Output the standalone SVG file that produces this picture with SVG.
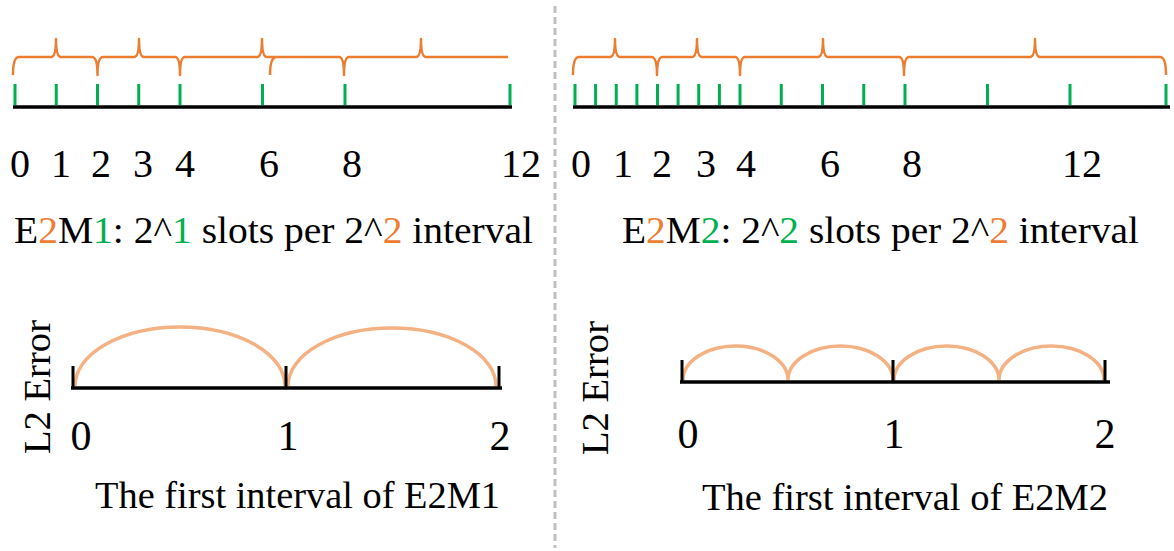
<svg xmlns="http://www.w3.org/2000/svg" width="1174" height="551" viewBox="0 0 1174 551">
<style>
.t{font-family:"Liberation Serif","Times New Roman",serif;fill:#000}
.d{font-size:40px;text-anchor:middle}
.o{fill:#ED7D31}
.g{fill:#00B050}
.brace{fill:none;stroke:#ED7D31;stroke-width:2.5;stroke-linejoin:round}
.tick{stroke:#00B050;stroke-width:3}
.axis{stroke:#000;stroke-width:3.5}
.arc{fill:none;stroke:#F4B183;stroke-width:3.5}
.btick{stroke:#000;stroke-width:3}
</style>
<rect width="1174" height="551" fill="#fff"/>
<line x1="555" y1="6" x2="555" y2="548" stroke="#BFBFBF" stroke-width="3" stroke-dasharray="7 4"/>

<g id="left-scale">
<path class="brace" d="M13,75 Q13,57 19,57 H51 Q56,57 56,39 Q56,57 61,57 H92 Q97.5,57 97.5,75 Q97.5,57 103,57 H134 Q139,57 139,39 Q139,57 144,57 H175 Q180,57 180,75 Q180,57 185,57 H257 Q262,57 262,39 Q262,57 267,57 H339 Q344,57 344,75 Q344,57 349,57 H416 Q421,57 421,39 Q421,57 426,57 H508 M270,75 Q270,58 276,57"/>
<g>
<line class="tick" x1="15" y1="84" x2="15" y2="105"/>
<line class="tick" x1="56.25" y1="84" x2="56.25" y2="105"/>
<line class="tick" x1="97.5" y1="84" x2="97.5" y2="105"/>
<line class="tick" x1="138.75" y1="84" x2="138.75" y2="105"/>
<line class="tick" x1="180" y1="84" x2="180" y2="105"/>
<line class="tick" x1="262.5" y1="84" x2="262.5" y2="105"/>
<line class="tick" x1="345" y1="84" x2="345" y2="105"/>
<line class="tick" x1="510" y1="84" x2="510" y2="105"/>
</g>
<line class="axis" x1="13" y1="107" x2="512" y2="107"/>
<g class="t d">
<text x="20" y="177">0</text>
<text x="61" y="177">1</text>
<text x="101" y="177">2</text>
<text x="143" y="177">3</text>
<text x="185" y="177">4</text>
<text x="269" y="177">6</text>
<text x="352" y="177">8</text>
<text x="521" y="177">12</text>
</g>
<text class="t" x="14" y="243" font-size="37" textLength="519" lengthAdjust="spacingAndGlyphs">E<tspan class="o">2</tspan>M<tspan class="g">1</tspan>: 2^<tspan class="g">1</tspan> slots per 2^<tspan class="o">2</tspan> interval</text>
</g>

<g id="right-scale">
<path class="brace" d="M573,75 Q573,57 579,57 H610 Q615,57 615,39 Q615,57 620,57 H651.5 Q657,57 657,75 Q657,57 662.5,57 H692 Q697,57 697,39 Q697,57 702,57 H735 Q740,57 740,75 Q740,57 745,57 H818 Q823,57 823,39 Q823,57 828,57 H899 Q904,57 904,75 Q904,57 909,57 H1030 Q1035,57 1035,39 Q1035,57 1040,57 H1160 Q1166,57 1166,75"/>
<g>
<line class="tick" x1="575" y1="84" x2="575" y2="105"/>
<line class="tick" x1="595.6" y1="84" x2="595.6" y2="105"/>
<line class="tick" x1="616.25" y1="84" x2="616.25" y2="105"/>
<line class="tick" x1="636.9" y1="84" x2="636.9" y2="105"/>
<line class="tick" x1="657.5" y1="84" x2="657.5" y2="105"/>
<line class="tick" x1="678.1" y1="84" x2="678.1" y2="105"/>
<line class="tick" x1="698.75" y1="84" x2="698.75" y2="105"/>
<line class="tick" x1="719.4" y1="84" x2="719.4" y2="105"/>
<line class="tick" x1="740" y1="84" x2="740" y2="105"/>
<line class="tick" x1="781.25" y1="84" x2="781.25" y2="105"/>
<line class="tick" x1="822.5" y1="84" x2="822.5" y2="105"/>
<line class="tick" x1="863.75" y1="84" x2="863.75" y2="105"/>
<line class="tick" x1="905" y1="84" x2="905" y2="105"/>
<line class="tick" x1="987.5" y1="84" x2="987.5" y2="105"/>
<line class="tick" x1="1070" y1="84" x2="1070" y2="105"/>
<line class="tick" x1="1166" y1="84" x2="1166" y2="105"/>
</g>
<line class="axis" x1="573" y1="107" x2="1170" y2="107"/>
<g class="t d">
<text x="581" y="177">0</text>
<text x="623" y="177">1</text>
<text x="662" y="177">2</text>
<text x="706" y="177">3</text>
<text x="746" y="177">4</text>
<text x="830" y="177">6</text>
<text x="912" y="177">8</text>
<text x="1082" y="177">12</text>
</g>
<text class="t" x="622" y="243" font-size="37" textLength="517" lengthAdjust="spacingAndGlyphs">E<tspan class="o">2</tspan>M<tspan class="g">2</tspan>: 2^<tspan class="g">2</tspan> slots per 2^<tspan class="o">2</tspan> interval</text>
</g>

<g id="left-error">
<path class="arc" d="M75,386 A105,59 0 0 1 285,386 M288,386 A104,58 0 0 1 496,386"/>
<line class="axis" x1="71" y1="388" x2="502" y2="388"/>
<line class="btick" x1="73" y1="366" x2="73" y2="389"/>
<line class="btick" x1="286" y1="366" x2="286" y2="389"/>
<line class="btick" x1="499" y1="366" x2="499" y2="389"/>
<text class="t" transform="translate(50,454) rotate(-90)" font-size="37" textLength="134" lengthAdjust="spacingAndGlyphs">L2 Error</text>
<g class="t" font-size="42" text-anchor="middle">
<text x="81" y="450">0</text>
<text x="288" y="450">1</text>
<text x="500" y="450">2</text>
</g>
<text class="t" x="95" y="508" font-size="38" textLength="405" lengthAdjust="spacingAndGlyphs">The first interval of E2M1</text>
</g>

<g id="right-error">
<path class="arc" d="M683,380 A52.5,34 0 0 1 788,380 M788,380 A52.5,34 0 0 1 893,380 M894,380 A52.5,34 0 0 1 999,380 M999,380 A52.5,34 0 0 1 1104,380"/>
<line class="axis" x1="680" y1="382" x2="1110" y2="382"/>
<line class="btick" x1="682" y1="360" x2="682" y2="383"/>
<line class="btick" x1="893" y1="360" x2="893" y2="383"/>
<line class="btick" x1="1105" y1="360" x2="1105" y2="383"/>
<text class="t" transform="translate(608,455) rotate(-90)" font-size="37" textLength="134" lengthAdjust="spacingAndGlyphs">L2 Error</text>
<g class="t" font-size="42" text-anchor="middle">
<text x="688" y="448">0</text>
<text x="894" y="448">1</text>
<text x="1105" y="448">2</text>
</g>
<text class="t" x="702" y="510" font-size="38" textLength="406" lengthAdjust="spacingAndGlyphs">The first interval of E2M2</text>
</g>
</svg>
